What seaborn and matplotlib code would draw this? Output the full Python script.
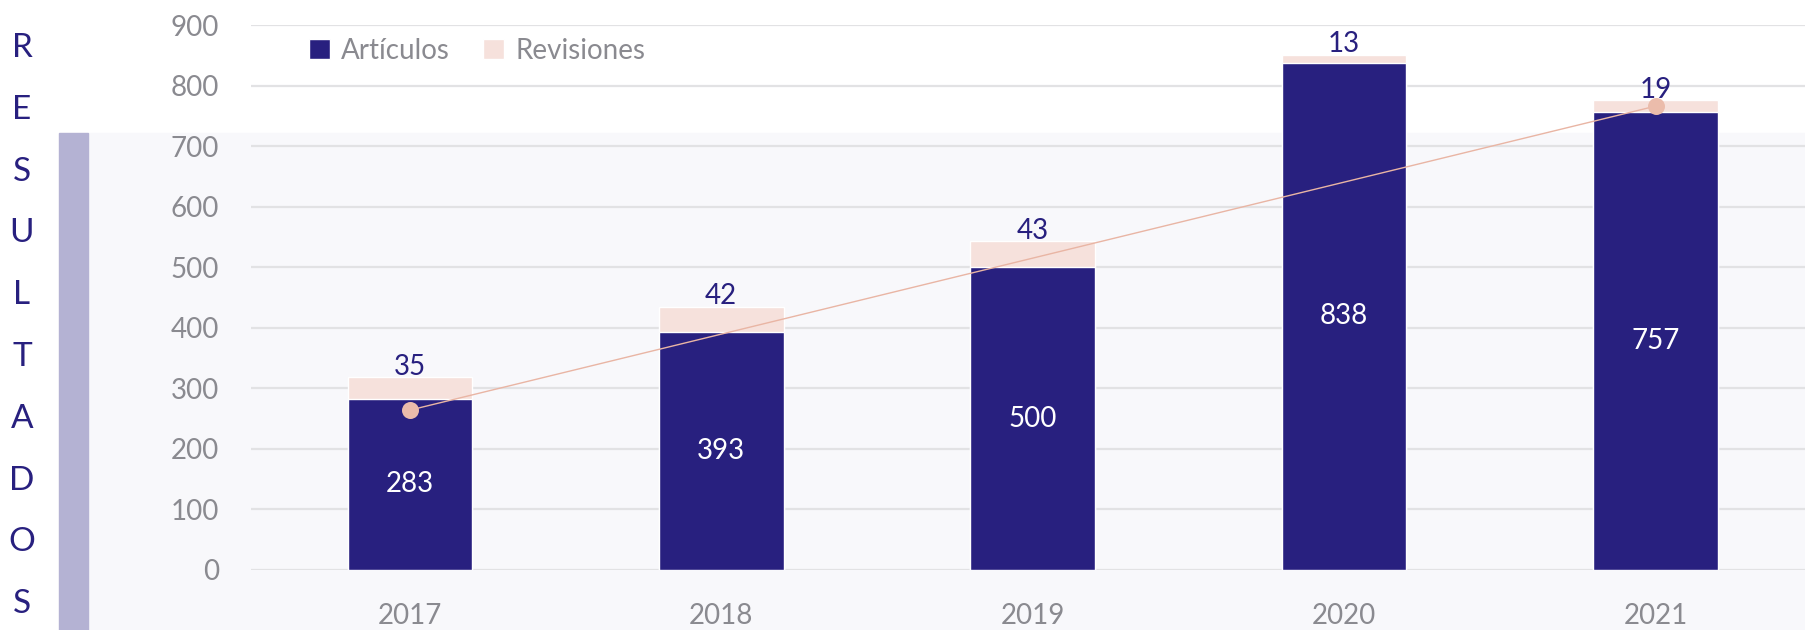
import matplotlib
matplotlib.use("Agg")
import matplotlib.pyplot as plt
from matplotlib.patches import Rectangle, Patch
import numpy as np
import pandas as pd
import seaborn as sns

# ── data ─────────────────────────────────────────────────────────────────────
years      = ["2017", "2018", "2019", "2020", "2021"]
articulos  = [283, 393, 500, 838, 757]
revisiones = [35, 42, 43, 13, 19]
# trend line (first and last year only)
trend_years  = ["2017", "2021"]
trend_values = [264, 766]
side_title = "RESULTADOS"

NAVY  = "#28207f"
PINK  = "#f6e1dc"
TREND = "#e9b5a4"
DOT   = "#ebbcab"
GREY  = "#8a8a90"
GRID  = "#e2e2e4"

sns.set_theme(style="white")
plt.rcParams["font.family"] = ["Lato", "DejaVu Sans"]

df = pd.DataFrame({"year": years, "art": articulos, "rev": revisiones})
df["total"] = df["art"] + df["rev"]

fig = plt.figure(figsize=(18.05, 6.3), dpi=100)
fig.patch.set_facecolor("white")

# faint background wash + lavender strip on the left (behind everything)
fig.patches.append(Rectangle((88 / 1805, 0), 1 - 88 / 1805, 497 / 630,
                             transform=fig.transFigure, color="#f8f8fb", zorder=-10))
fig.patches.append(Rectangle((59 / 1805, 0), 29 / 1805, 497 / 630,
                             transform=fig.transFigure, color="#b4b2d3", zorder=-10))

ax = fig.add_axes([251 / 1805, 60 / 630, 1 - 251 / 1805, 545 / 630])
ax.set_facecolor("none")

# stacked bars: totals in pink underneath, articles in navy on top
sns.barplot(data=df, x="year", y="total", color=PINK, width=0.4,
            saturation=1, ax=ax, zorder=2)
sns.barplot(data=df, x="year", y="art", color=NAVY, width=0.4,
            saturation=1, ax=ax, zorder=3)

# trend line with end dots
pos = {y: i for i, y in enumerate(years)}
tx = [pos[y] for y in trend_years]
ax.plot(tx, trend_values, color=TREND, lw=1.0, zorder=4)
ax.scatter(tx, trend_values, s=150, color=DOT, zorder=5, linewidths=0)

# value labels
for i, row in df.iterrows():
    ax.text(i, row["art"] / 2, str(row["art"]), ha="center", va="center",
            color="white", fontsize=20, zorder=6)
    ax.annotate(str(row["rev"]), (i, row["total"]), xytext=(0, -2),
                textcoords="offset points", ha="center", va="bottom",
                color=NAVY, fontsize=20, zorder=6)

ax.set_ylim(0, 900)
ax.set_xlim(-0.51, 4.48)
ax.set_yticks(range(0, 901, 100))
ax.yaxis.grid(True, color=GRID, lw=1.6, zorder=0)
ax.set_axisbelow(True)
ax.set_xlabel("")
ax.set_ylabel("")
ax.tick_params(axis="both", length=0, labelsize=20, labelcolor=GREY)
ax.tick_params(axis="y", pad=23)
ax.tick_params(axis="x", pad=24)
sns.despine(ax=ax, left=True, bottom=True, top=True, right=True)

handles = [Patch(facecolor=NAVY, label="Artículos"),
           Patch(facecolor=PINK, label="Revisiones")]
leg = ax.legend(handles=handles, loc="upper left", bbox_to_anchor=(0.025, 1.012),
                ncol=2, frameon=False, fontsize=20, handlelength=0.75,
                handleheight=0.75, handletextpad=0.4, columnspacing=1.2,
                borderaxespad=0.3)
for t in leg.get_texts():
    t.set_color(GREY)

# vertical side title, one letter per line
for k, ch in enumerate(side_title):
    fig.text(22 / 1805, 1 - (48 + 61.8 * k) / 630, ch, ha="center", va="center",
             color=NAVY, fontsize=24)

fig.savefig("out.png", dpi=100, facecolor=fig.get_facecolor())
